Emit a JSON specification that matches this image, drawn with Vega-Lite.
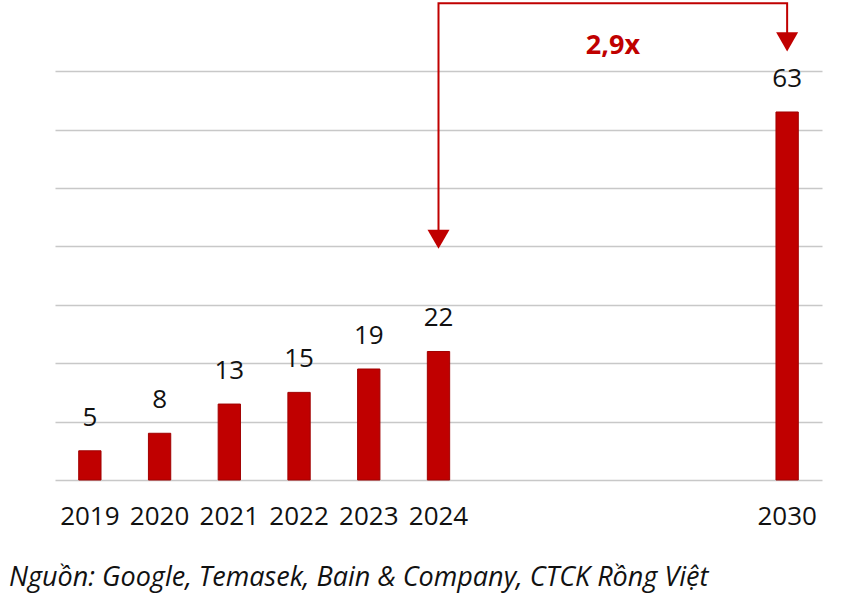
{
  "$schema": "https://vega.github.io/schema/vega-lite/v6.json",
  "width": 767,
  "height": 479,
  "autosize": "none",
  "padding": {"left": 55, "top": 1, "right": 28, "bottom": 116},
  "background": "white",
  "config": {"view": {"stroke": null}, "font": "Open Sans"},
  "datasets": {
    "bars": [
      {"year": "2019", "value": 5},
      {"year": "2020", "value": 8},
      {"year": "2021", "value": 13},
      {"year": "2022", "value": 15},
      {"year": "2023", "value": 19},
      {"year": "2024", "value": 22},
      {"year": "2030", "value": 63}
    ],
    "arrow": [
      {"year": "2024", "y": 41, "o": 1},
      {"year": "2024", "y": 81.6, "o": 2},
      {"year": "2030", "y": 81.6, "o": 3},
      {"year": "2030", "y": 75, "o": 4}
    ],
    "heads": [
      {"year": "2024", "y": 41.2},
      {"year": "2030", "y": 75.0}
    ],
    "note": [
      {"year": "g2", "y": 74.3, "label": "2,9x"}
    ]
  },
  "title": {
    "text": "Nguồn: Google, Temasek, Bain & Company, CTCK Rồng Việt",
    "orient": "bottom",
    "anchor": "start",
    "dx": -46,
    "offset": 36,
    "font": "Open Sans",
    "fontSize": 27,
    "fontStyle": "italic",
    "fontWeight": "normal",
    "color": "#111111"
  },
  "encoding": {
    "x": {
      "field": "year",
      "type": "nominal",
      "sort": null,
      "scale": {
        "domain": ["2019", "2020", "2021", "2022", "2023", "2024", "g1", "g2", "g3", "g4", "2030"],
        "paddingInner": 0.68,
        "paddingOuter": 0.34
      },
      "axis": {
        "title": null,
        "labelAngle": 0,
        "labelExpr": "length(datum.label) == 4 ? datum.label : ''",
        "labelFontSize": 26,
        "labelColor": "#111111",
        "labelPadding": 23,
        "domain": false,
        "ticks": false,
        "grid": false
      }
    }
  },
  "layer": [
    {
      "data": {"name": "bars"},
      "mark": {"type": "bar", "color": "#c00000", "stroke": "#a00000", "strokeWidth": 1},
      "encoding": {
        "y": {
          "field": "value",
          "type": "quantitative",
          "scale": {"domain": [0, 82], "nice": false},
          "axis": {
            "title": null,
            "values": [0, 10, 20, 30, 40, 50, 60, 70],
            "labels": false,
            "ticks": false,
            "domain": false,
            "grid": true,
            "gridColor": "#c8c8c8",
            "gridWidth": 1.5
          }
        }
      }
    },
    {
      "data": {"name": "bars"},
      "mark": {"type": "text", "baseline": "alphabetic", "dy": -25, "fontSize": 26, "color": "#111111"},
      "encoding": {
        "y": {"field": "value", "type": "quantitative"},
        "text": {"field": "value", "type": "quantitative"}
      }
    },
    {
      "data": {"name": "arrow"},
      "mark": {"type": "line", "color": "#c00000", "strokeWidth": 2},
      "encoding": {
        "y": {"field": "y", "type": "quantitative"},
        "order": {"field": "o", "type": "quantitative"}
      }
    },
    {
      "data": {"name": "heads"},
      "mark": {"type": "point", "shape": "triangle-down", "filled": true, "color": "#c00000", "size": 484, "opacity": 1},
      "encoding": {
        "y": {"field": "y", "type": "quantitative"}
      }
    },
    {
      "data": {"name": "note"},
      "mark": {"type": "text", "baseline": "middle", "align": "center", "dx": 35, "fontSize": 27, "fontWeight": "bold", "color": "#c00000"},
      "encoding": {
        "y": {"field": "y", "type": "quantitative"},
        "text": {"field": "label"}
      }
    }
  ]
}
